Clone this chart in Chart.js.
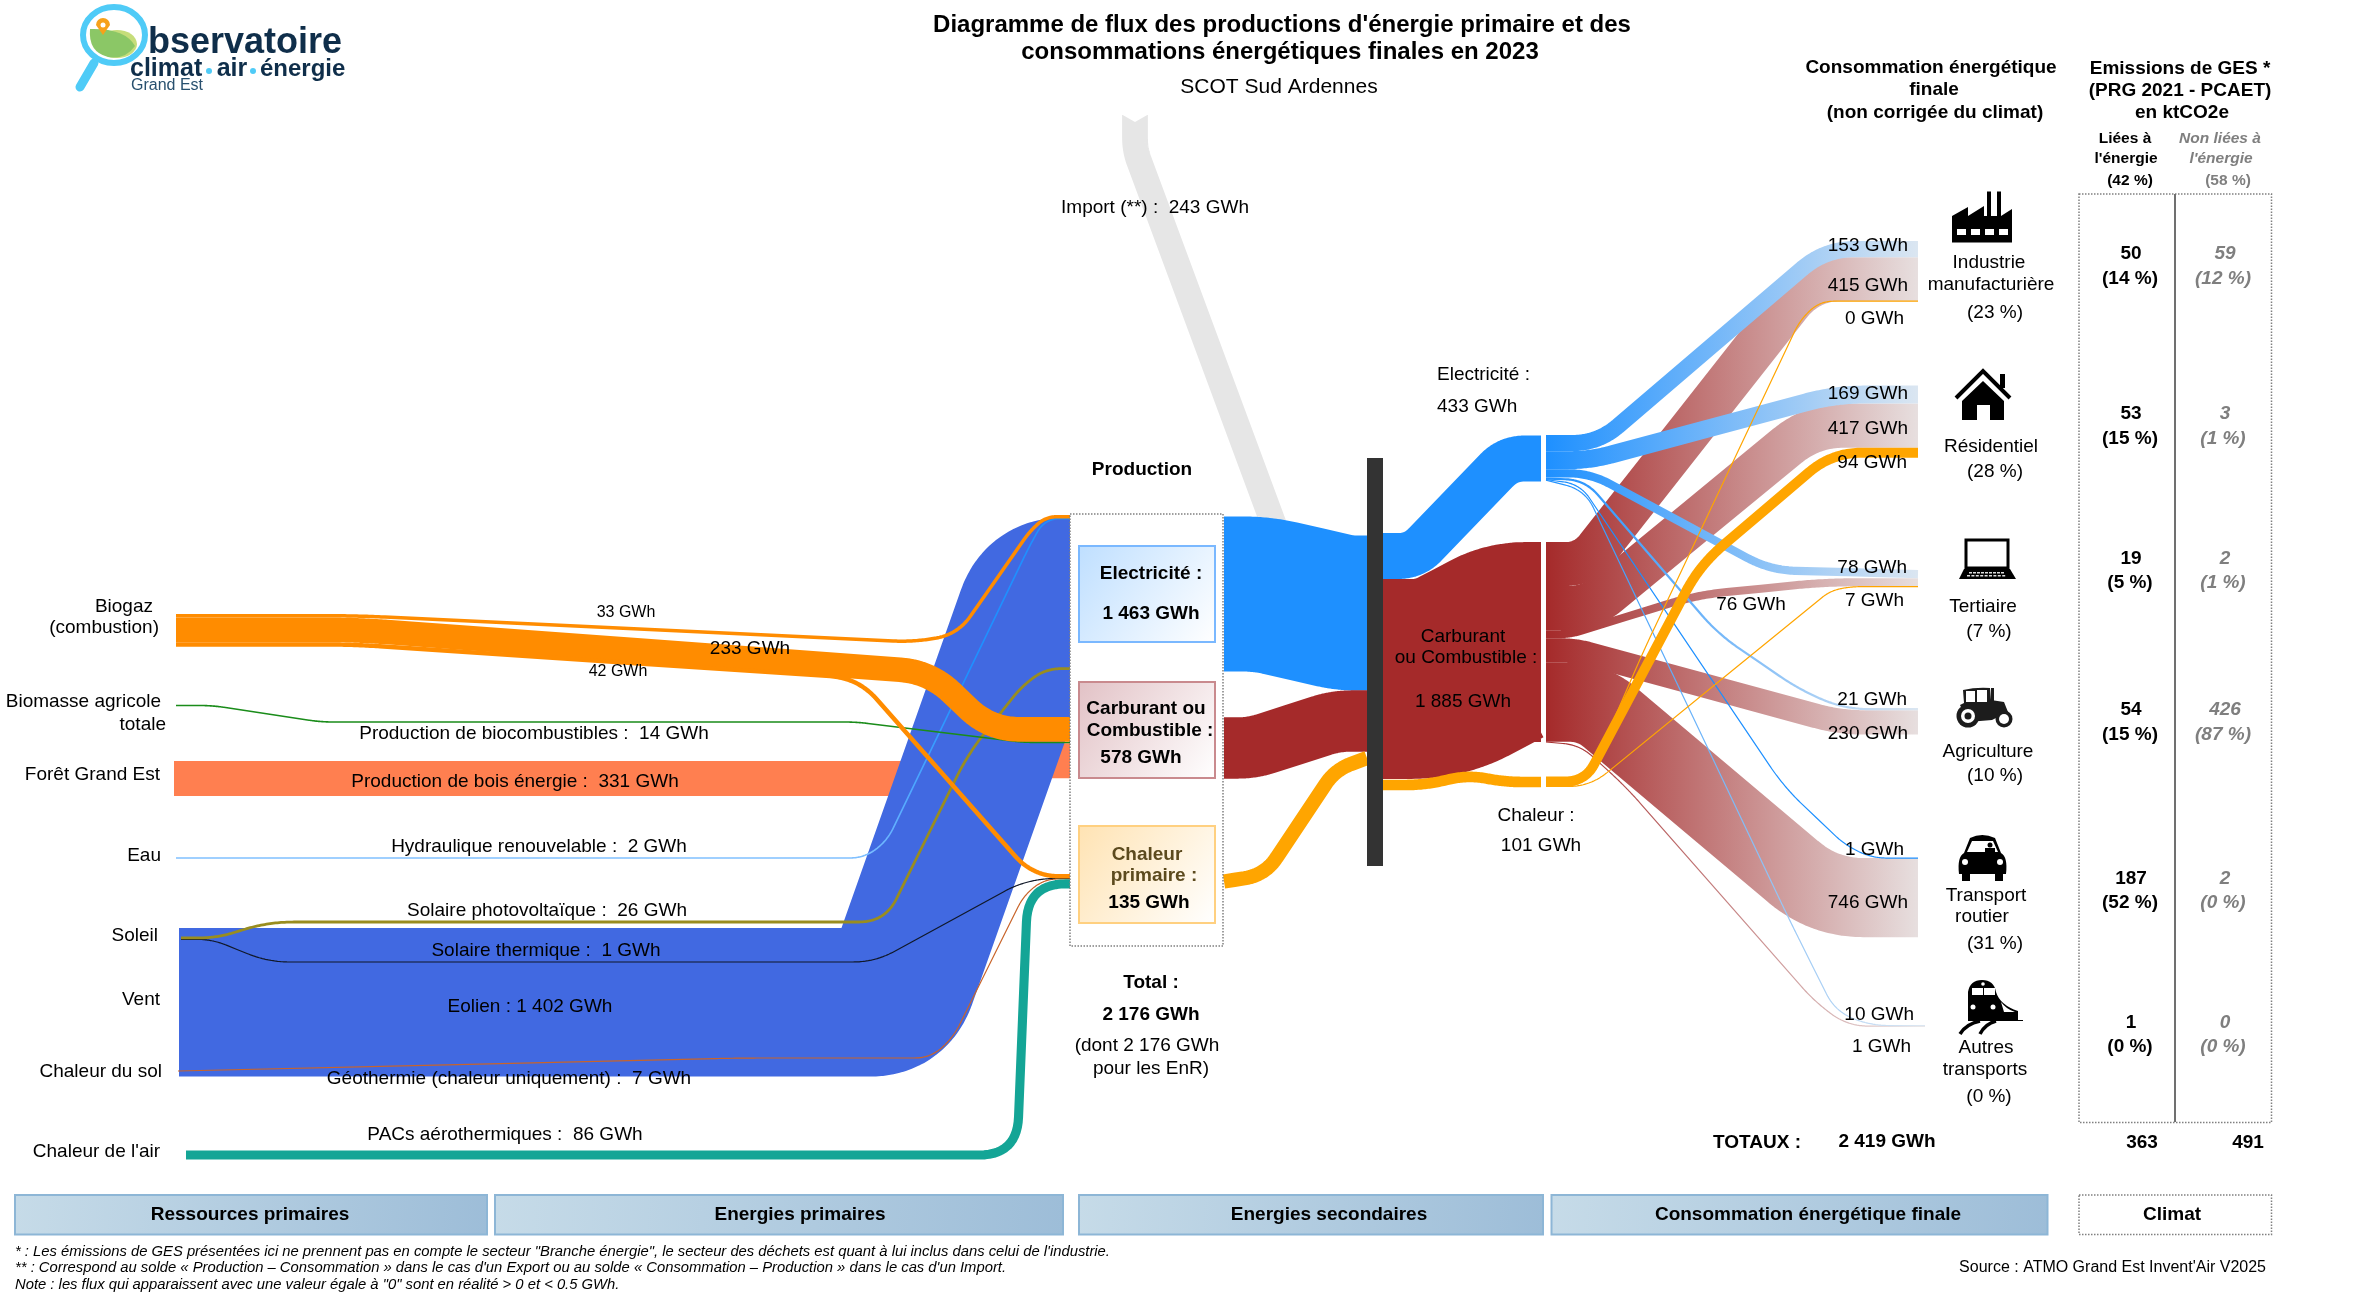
<!DOCTYPE html>
<html lang="fr">
<head>
<meta charset="utf-8">
<title>Diagramme de flux - SCOT Sud Ardennes</title>
<script src="https://cdn.jsdelivr.net/npm/chart.js@4/dist/chart.umd.min.js"></script>
<style>
  html, body { margin: 0; padding: 0; background: #fff; }
  #wrap { width: 2370px; height: 1299px; }
</style>
</head>
<body>
<div id="wrap"><canvas id="sankey" width="2370" height="1299"></canvas></div>
<script>
// values, in GWh unless noted
const biogazValues = [33, 233, 42];             // vers electricite, carburant, chaleur
const primaryNames = ['Production de biocombustibles', 'Production de bois énergie', 'Hydraulique renouvelable',
  'Solaire photovoltaïque', 'Solaire thermique', 'Eolien', 'Géothermie (chaleur uniquement)', 'PACs aérothermiques'];
const primaryValues = [14, 331, 2, 26, 1, 1402, 7, 86];
const importValue = 243;
const productionValues = [1463, 578, 135];      // electricite, carburant, chaleur primaire
const productionTotal = 2176;
const carrierValues = [433, 1885, 101];         // electricite, carburant, chaleur
const sectorShare = [23, 28, 7, 10, 31, 0];     // %
const elecBySector = [153, 169, 78, 21, 1, 10];
const fuelBySector = [415, 417, 76, 230, 746, 1];
const heatBySector = [0, 94, 7, 0, 0, 0];
const consumptionTotal = 2419;
const ghgEnergy = [50, 53, 19, 54, 187, 1];     // ktCO2e
const ghgEnergyPct = [14, 15, 5, 15, 52, 0];
const ghgOther = [59, 3, 2, 426, 2, 0];
const ghgOtherPct = [12, 1, 1, 87, 0, 0];
const ghgTotals = [363, 491];
const ghgTotalPct = [42, 58];

const PX_PER_GWH = 0.106;
const FONT = '"Liberation Sans", Arial, sans-serif';

function gwh(v) { return String(v).replace(/\B(?=(\d{3})+$)/g, ' ') + ' GWh'; }

// centre line of each flow stacked from the top of a node
function stack(top, values) {
  let y = top;
  return values.map(v => {
    const w = v * PX_PER_GWH;
    const c = y + w / 2;
    y += w;
    return c;
  });
}

// rounds the corners of a route so that thick strokes bend like the original
function smooth(pts, r) {
  const out = [{ x: pts[0][0], y: pts[0][1] }];
  for (let i = 1; i < pts.length - 1; i++) {
    const [ax, ay] = pts[i - 1], [bx, by] = pts[i], [cx, cy] = pts[i + 1];
    const d1 = Math.hypot(ax - bx, ay - by), d2 = Math.hypot(cx - bx, cy - by);
    const rr = Math.min(r, d1 / 2, d2 / 2);
    const sx = bx + (ax - bx) / d1 * rr, sy = by + (ay - by) / d1 * rr;
    const ex = bx + (cx - bx) / d2 * rr, ey = by + (cy - by) / d2 * rr;
    for (let k = 0; k <= 14; k++) {
      const t = k / 14, u = 1 - t;
      out.push({ x: u * u * sx + 2 * u * t * bx + t * t * ex, y: u * u * sy + 2 * u * t * by + t * t * ey });
    }
  }
  const last = pts[pts.length - 1];
  out.push({ x: last[0], y: last[1] });
  return out;
}

// node stacks
const [bioFuelIdx, boisIdx, hydroIdx, pvIdx, thermIdx, eolIdx, geoIdx, pacIdx] = [0, 1, 2, 3, 4, 5, 6, 7];
const srcBiogaz = stack(614, biogazValues);
const nodeElec = stack(515, [biogazValues[0], primaryValues[hydroIdx], primaryValues[eolIdx], primaryValues[pvIdx]]);
const nodeFuel = stack(717, [biogazValues[1], primaryValues[bioFuelIdx], primaryValues[boisIdx]]);
const nodeHeat = stack(874, [biogazValues[2], primaryValues[thermIdx], primaryValues[geoIdx], primaryValues[pacIdx]]);
const srcSoleil = stack(936.5, [primaryValues[pvIdx], primaryValues[thermIdx]]);
const eolY = 928 + primaryValues[eolIdx] * PX_PER_GWH / 2;
const boisY = 761 + primaryValues[boisIdx] * PX_PER_GWH / 2;
const pacY = 1150.5 + primaryValues[pacIdx] * PX_PER_GWH / 2;

const outElec = stack(435, elecBySector);
const outFuel = stack(542, fuelBySector);
const outHeat = stack(776.5, [heatBySector[1], heatBySector[2], heatBySector[0]]);
const sectorTops = [241, 385.6, 570, 708, 858, 1025];
const sectorIn = sectorTops.map((t, i) => stack(t, [elecBySector[i], fuelBySector[i], heatBySector[i]]));

const BLUE = '#1e90ff', BRICK = '#a52a2a', AMBER = '#ffa500', GBIO = '#ff8c00';
const FADE_BLUE = '#dbe6f1', FADE_BRICK = '#e7dfdf';

// drawn bottom to top
const flows = [
  { v: importValue, color: '#e6e6e6', r: 12, path: [[1135, 115], [1135, 150], [1298, 590]] },
  { v: primaryValues[boisIdx], color: '#ff7f50', r: 60, path: [[174, boisY], [930, boisY], [1005, nodeFuel[2]], [1110, nodeFuel[2]]] },
  { v: primaryValues[eolIdx], color: '#4169e1', r: 24, path: [[179, eolY], [894, eolY], [1039, 592], [1110, 592]] },
  { v: primaryValues[hydroIdx], min: 1.6, color: '#80c0ff', to: BLUE, range: [864, 960], r: 30, path: [[176, 858], [864, 858], [887, 841], [1030, 545], [1045, nodeElec[1]], [1110, nodeElec[1]]] },
  { v: primaryValues[geoIdx], min: 1.2, color: '#c8642a', r: 25, path: [[178, 1071], [740, 1058], [930, 1058], [953, 1038], [1024, 895], [1045, nodeHeat[2]], [1110, nodeHeat[2]]] },
  { v: primaryValues[pacIdx], color: '#14a596', r: 38, path: [[186, pacY], [1017, pacY], [1028, nodeHeat[3]], [1110, nodeHeat[3]]] },
  { v: primaryValues[thermIdx], min: 1.2, color: '#101828', r: 22, path: [[181, srcSoleil[1]], [212, srcSoleil[1]], [268, 962], [875, 962], [1016, 885], [1042, nodeHeat[1]], [1110, nodeHeat[1]]] },
  { v: primaryValues[pvIdx], color: '#998d1f', r: 26, path: [[181, srcSoleil[0]], [217, srcSoleil[0]], [268, 922], [885, 922], [968, 754], [1022, 686], [1046, nodeElec[3]], [1110, nodeElec[3]]] },
  { v: primaryValues[bioFuelIdx], min: 1.6, color: '#1a8c1a', r: 12, path: [[176, 705.5], [212, 705.5], [321, 722], [856, 722], [1024, nodeFuel[1]], [1110, nodeFuel[1]]] },
  { v: biogazValues[1], color: GBIO, r: 30, path: [[176, srcBiogaz[1]], [357, srcBiogaz[1]], [930, 672], [990, nodeFuel[0]], [1110, nodeFuel[0]]] },
  { v: biogazValues[2], color: GBIO, r: 28, path: [[176, srcBiogaz[2]], [352, srcBiogaz[2]], [858, 678], [1024, 866], [1046, nodeHeat[0]], [1110, nodeHeat[0]]] },
  { v: biogazValues[0], color: GBIO, r: 28, path: [[176, srcBiogaz[0]], [357, srcBiogaz[0]], [915, 642], [958, 634], [1030, 531], [1046, nodeElec[0]], [1110, nodeElec[0]]] },

  { v: productionValues[0], color: BLUE, r: 30, path: [[1224, 594], [1262, 594], [1345, 613], [1367, 613]] },
  { v: productionValues[1], color: BRICK, r: 26, path: [[1224, 748], [1252, 748], [1336, 721], [1367, 721]] },
  { v: productionValues[2], color: AMBER, r: 35, path: [[1224, 881.5], [1265, 875], [1335, 770], [1367, 758]] },

  { v: carrierValues[1], color: BRICK, r: 40, path: [[1383, 679], [1440, 679], [1510, 642], [1541, 642]] },
  { v: carrierValues[0], color: BLUE, r: 45, path: [[1383, 556], [1414, 556], [1508, 458.5], [1541, 458.5]] },
  { v: carrierValues[2], color: AMBER, r: 20, path: [[1383, 785], [1425, 785], [1468, 775], [1505, 782], [1541, 782]] },

  // vers les secteurs
  { v: fuelBySector[4], color: BRICK, to: FADE_BRICK, r: 40, path: [[1546, outFuel[4]], [1592, outFuel[4]], [1824, sectorIn[4][1]], [1918, sectorIn[4][1]]] },
  { v: fuelBySector[3], color: BRICK, to: FADE_BRICK, r: 25, path: [[1546, outFuel[3]], [1575, outFuel[3]], [1840, sectorIn[3][1]], [1918, sectorIn[3][1]]] },
  { v: fuelBySector[1], color: BRICK, to: FADE_BRICK, r: 32, path: [[1546, outFuel[1]], [1590, outFuel[1]], [1812, sectorIn[1][1]], [1918, sectorIn[1][1]]] },
  { v: fuelBySector[0], color: BRICK, to: FADE_BRICK, r: 32, path: [[1546, outFuel[0]], [1585, outFuel[0]], [1809, sectorIn[0][1]], [1918, sectorIn[0][1]]] },
  { v: fuelBySector[2], color: BRICK, to: FADE_BRICK, r: 30, path: [[1546, outFuel[2]], [1570, outFuel[2]], [1697, 595], [1825, sectorIn[2][1]], [1918, sectorIn[2][1]]] },
  { v: fuelBySector[5], min: 1.2, color: BRICK, to: FADE_BRICK, r: 22, path: [[1546, 742], [1580, 745], [1626, 787], [1815, 1002], [1848, sectorIn[5][1]], [1925, sectorIn[5][1]]] },
  { v: elecBySector[0], color: BLUE, to: FADE_BLUE, r: 30, path: [[1546, outElec[0]], [1598, outElec[0]], [1825, sectorIn[0][0]], [1918, sectorIn[0][0]]] },
  { v: elecBySector[1], color: BLUE, to: FADE_BLUE, r: 30, path: [[1546, outElec[1]], [1590, outElec[1]], [1835, sectorIn[1][0]], [1918, sectorIn[1][0]]] },
  { v: elecBySector[2], color: BLUE, to: FADE_BLUE, r: 26, path: [[1546, outElec[2]], [1590, outElec[2]], [1770, sectorIn[2][0] - 4], [1918, sectorIn[2][0]]] },
  { v: elecBySector[3], color: BLUE, to: FADE_BLUE, r: 26, path: [[1546, outElec[3]], [1585, 480], [1718, 634], [1800, 690], [1845, sectorIn[3][0]], [1918, sectorIn[3][0]]] },
  { v: elecBySector[4], min: 1.2, color: BLUE, r: 26, path: [[1546, outElec[4]], [1580, 484], [1784, 787], [1845, 845], [1872, sectorIn[4][0]], [1918, sectorIn[4][0]]] },
  { v: elecBySector[5], min: 1.2, color: BLUE, to: FADE_BLUE, r: 26, path: [[1546, outElec[5]], [1585, 490], [1789, 919], [1835, 1011], [1870, sectorIn[5][0]], [1925, sectorIn[5][0]]] },
  { v: heatBySector[1], color: AMBER, r: 30, path: [[1546, outHeat[0]], [1585, outHeat[0]], [1700, 565], [1832, sectorIn[1][2]], [1918, sectorIn[1][2]]] },
  { v: heatBySector[0], min: 1.2, color: AMBER, r: 25, path: [[1546, 786], [1585, 786], [1644, 650], [1800, 320], [1820, sectorIn[0][2]], [1918, sectorIn[0][2]]] },
  { v: heatBySector[2], min: 1.2, color: AMBER, r: 25, path: [[1546, 786.5], [1590, 786.5], [1830, 591], [1850, sectorIn[2][2]], [1918, sectorIn[2][2]]] },
];

function txt(ctx, s, x, y, o = {}) {
  ctx.font = `${o.italic ? 'italic ' : ''}${o.bold ? 'bold ' : ''}${o.size || 19}px ${FONT}`;
  ctx.fillStyle = o.color || '#000';
  ctx.textAlign = o.align || 'center';
  ctx.textBaseline = 'middle';
  ctx.fillText(s, x, y + 1);
}

function gradBox(ctx, x, y, w, h, c0, c1, border) {
  const g = ctx.createLinearGradient(x, y, x + w, y + h);
  g.addColorStop(0, c0);
  g.addColorStop(1, c1);
  ctx.fillStyle = g;
  ctx.fillRect(x, y, w, h);
  ctx.strokeStyle = border;
  ctx.lineWidth = 2;
  ctx.strokeRect(x, y, w, h);
}

function dottedRect(ctx, x, y, w, h) {
  ctx.save();
  ctx.setLineDash([1.5, 1.5]);
  ctx.strokeStyle = '#808080';
  ctx.lineWidth = 1.5;
  ctx.strokeRect(x, y, w, h);
  ctx.restore();
}

function drawLogo(ctx) {
  ctx.save();
  ctx.strokeStyle = '#4fcbf7';
  ctx.lineCap = 'round';
  ctx.lineWidth = 9;
  ctx.beginPath(); ctx.moveTo(94, 63); ctx.lineTo(80, 87); ctx.stroke();
  ctx.fillStyle = '#fff';
  ctx.lineWidth = 6;
  ctx.beginPath(); ctx.ellipse(114, 35, 31, 28, 0, 0, 7); ctx.fill(); ctx.stroke();
  ctx.fillStyle = '#c6dd7a';
  ctx.beginPath(); ctx.ellipse(117, 44, 20, 14, 0, 0, 7); ctx.fill();
  ctx.fillStyle = '#8bc766';
  ctx.beginPath(); ctx.moveTo(90, 29); ctx.quadraticCurveTo(125, 28, 135, 46);
  ctx.quadraticCurveTo(125, 60, 108, 57); ctx.quadraticCurveTo(88, 52, 90, 29); ctx.fill();
  ctx.fillStyle = '#f7a11a';
  ctx.beginPath(); ctx.arc(103, 25, 7, Math.PI, 0); ctx.lineTo(103, 35); ctx.closePath(); ctx.fill();
  ctx.fillStyle = '#fff';
  ctx.beginPath(); ctx.arc(103, 25, 2.5, 0, 7); ctx.fill();
  ctx.fillStyle = '#4fcbf7';
  ctx.beginPath(); ctx.arc(209, 71, 3, 0, 7); ctx.fill();
  ctx.beginPath(); ctx.arc(253, 71, 3, 0, 7); ctx.fill();
  ctx.restore();
  const navy = '#0f2e4a';
  txt(ctx, 'bservatoire', 148, 42, { bold: true, size: 36, color: navy, align: 'left' });
  txt(ctx, 'climat', 130, 68, { bold: true, size: 25, color: navy, align: 'left' });
  txt(ctx, 'air', 232, 68, { bold: true, size: 25, color: navy });
  txt(ctx, 'énergie', 260, 68, { bold: true, size: 24, color: navy, align: 'left' });
  txt(ctx, 'Grand Est', 131, 85, { size: 16, color: '#28506e', align: 'left' });
}

function drawIcons(ctx) {
  ctx.save();
  ctx.fillStyle = '#000';
  ctx.strokeStyle = '#000';

  // usine
  ctx.beginPath();
  ctx.moveTo(1952, 242.5); ctx.lineTo(1952, 216); ctx.lineTo(1968, 207); ctx.lineTo(1968, 216);
  ctx.lineTo(1984, 206); ctx.lineTo(1984, 216); ctx.lineTo(1987, 216); ctx.lineTo(1987, 191.5);
  ctx.lineTo(1991, 191.5); ctx.lineTo(1991, 216); ctx.lineTo(1997, 216); ctx.lineTo(1997, 191.5);
  ctx.lineTo(2001, 191.5); ctx.lineTo(2001, 216); ctx.lineTo(2012, 209); ctx.lineTo(2012, 242.5);
  ctx.closePath(); ctx.fill();
  ctx.fillStyle = '#fff';
  [1957, 1971, 1985, 1999].forEach(x => ctx.fillRect(x, 229, 9, 6));
  ctx.fillStyle = '#000';

  // maison
  ctx.lineWidth = 4;
  ctx.beginPath(); ctx.moveTo(1956, 398); ctx.lineTo(1983, 371); ctx.lineTo(2010, 398); ctx.stroke();
  ctx.fillRect(2000, 374, 5, 14);
  ctx.beginPath();
  ctx.moveTo(1983, 381); ctx.lineTo(2004, 401); ctx.lineTo(2004, 420); ctx.lineTo(1990, 420); ctx.lineTo(1990, 405);
  ctx.lineTo(1977, 405); ctx.lineTo(1977, 420); ctx.lineTo(1962, 420); ctx.lineTo(1962, 401); ctx.closePath(); ctx.fill();

  // ordinateur portable
  ctx.lineWidth = 3;
  ctx.strokeRect(1966, 540, 42, 28);
  ctx.beginPath(); ctx.moveTo(1964, 569); ctx.lineTo(2010, 569); ctx.lineTo(2016, 579); ctx.lineTo(1959, 579); ctx.closePath(); ctx.fill();
  ctx.fillStyle = '#ddd';
  for (let i = 0; i < 9; i++) ctx.fillRect(1969 + i * 4, 572, 3, 1.5), ctx.fillRect(1967 + i * 4.4, 575, 3, 1.5);
  ctx.fillStyle = '#000';

  // tracteur
  ctx.fillStyle = '#1c1c1c';
  ctx.beginPath();
  ctx.moveTo(1963, 690); ctx.quadraticCurveTo(1976, 687, 1990, 688); ctx.lineTo(1991, 700); ctx.lineTo(2004, 702);
  ctx.lineTo(2008, 712); ctx.lineTo(2000, 716); ctx.lineTo(1992, 720); ctx.lineTo(1968, 722); ctx.lineTo(1960, 705); ctx.lineTo(1964, 703); ctx.closePath(); ctx.fill();
  ctx.fillRect(1991, 688, 3, 13);
  ctx.fillStyle = '#fff';
  ctx.fillRect(1966, 691, 9, 11);
  ctx.fillRect(1977, 690, 10, 12);
  [[1968, 716, 11.5, 7, 3.5], [2004, 719, 8.5, 5, 0]].forEach(([x, y, r, w, hub]) => {
    ctx.fillStyle = '#1c1c1c';
    ctx.beginPath(); ctx.arc(x, y, r, 0, 7); ctx.fill();
    ctx.fillStyle = '#fff';
    ctx.beginPath(); ctx.arc(x, y, w, 0, 7); ctx.fill();
    if (hub) {
      ctx.fillStyle = '#1c1c1c';
      ctx.beginPath(); ctx.arc(x, y, hub, 0, 7); ctx.fill();
    }
  });
  ctx.fillStyle = '#000';

  // voiture
  ctx.beginPath();
  ctx.moveTo(1970, 838); ctx.quadraticCurveTo(1982, 832, 1995, 838); ctx.lineTo(2001, 853);
  ctx.quadraticCurveTo(2008, 857, 2006, 874); ctx.lineTo(1959, 874); ctx.quadraticCurveTo(1957, 857, 1964, 853); ctx.closePath(); ctx.fill();
  ctx.fillRect(1962, 872, 8, 9); ctx.fillRect(1995, 872, 8, 9);
  ctx.fillStyle = '#fff';
  ctx.beginPath(); ctx.moveTo(1972, 841); ctx.lineTo(1993, 841); ctx.lineTo(1998, 852); ctx.lineTo(1967, 852); ctx.closePath(); ctx.fill();
  ctx.beginPath(); ctx.arc(1965, 862, 3, 0, 7); ctx.fill();
  ctx.beginPath(); ctx.arc(2000, 862, 3, 0, 7); ctx.fill();
  ctx.fillStyle = '#000';
  ctx.beginPath(); ctx.arc(1990, 845, 2.5, 0, 7); ctx.fill();
  ctx.fillRect(1985, 848, 10, 4);

  // train
  ctx.beginPath();
  ctx.moveTo(1968, 1020); ctx.lineTo(1968, 992); ctx.quadraticCurveTo(1970, 980, 1982, 980);
  ctx.quadraticCurveTo(1994, 980, 1996, 992); ctx.quadraticCurveTo(2000, 1005, 2018, 1011);
  ctx.lineTo(2018, 1020); ctx.lineTo(2023, 1020); ctx.lineTo(2023, 1021); ctx.lineTo(1968, 1021); ctx.closePath(); ctx.fill();
  ctx.fillStyle = '#fff';
  ctx.fillRect(1972, 988, 11, 7); ctx.fillRect(1984, 988, 11, 7);
  ctx.beginPath(); ctx.arc(1983, 984, 1.8, 0, 7); ctx.fill();
  ctx.beginPath(); ctx.arc(1973, 1007, 2.5, 0, 7); ctx.fill();
  ctx.beginPath(); ctx.arc(1993, 1007, 2.5, 0, 7); ctx.fill();
  ctx.beginPath(); ctx.moveTo(2001, 1002); ctx.quadraticCurveTo(2006, 1009, 2015, 1012); ctx.lineTo(2004, 1012); ctx.closePath(); ctx.fill();
  ctx.strokeStyle = '#000';
  ctx.lineWidth = 3.5;
  ctx.beginPath(); ctx.moveTo(1960, 1034); ctx.quadraticCurveTo(1966, 1024, 1980, 1021); ctx.stroke();
  ctx.beginPath(); ctx.moveTo(1980, 1034); ctx.quadraticCurveTo(1985, 1024, 1996, 1021); ctx.stroke();
  ctx.restore();
}

// boxes, separators, icons and every text sit above the flows
const sankeyDecor = {
  id: 'sankeyDecor',
  afterDatasetsDraw(chart) {
    const ctx = chart.ctx;
    ctx.save();

    // encoche en tete de l'import
    ctx.fillStyle = '#fff';
    ctx.beginPath(); ctx.moveTo(1121, 114); ctx.lineTo(1149, 114); ctx.lineTo(1135, 122); ctx.closePath(); ctx.fill();

    // panneau production
    ctx.fillStyle = '#fff';
    ctx.fillRect(1070, 514, 153, 432);
    dottedRect(ctx, 1070, 514, 153, 432);
    gradBox(ctx, 1079, 546, 136, 96, '#bfdfff', '#ffffff', '#7ab8ff');
    gradBox(ctx, 1079, 682, 136, 96, '#e2c2c6', '#ffffff', '#c98a8e');
    gradBox(ctx, 1079, 826, 136, 97, '#ffe3b3', '#ffffff', '#ffd080');

    // barre noire
    ctx.fillStyle = '#333';
    ctx.fillRect(1367, 458, 16, 408);

    // cadre des emissions
    dottedRect(ctx, 2079, 194, 192.5, 928.5);
    ctx.strokeStyle = '#707070';
    ctx.lineWidth = 2;
    ctx.beginPath(); ctx.moveTo(2175, 194); ctx.lineTo(2175, 1122); ctx.stroke();

    // bandeaux du bas
    [[15, 472], [495, 568], [1079, 464], [1551.5, 496]].forEach(([x, w]) =>
      gradBox(ctx, x, 1195, w, 39.5, '#c6dbe8', '#9dbdd8', '#8db6d6'));
    dottedRect(ctx, 2079, 1195, 192.5, 39.5);

    drawLogo(ctx);
    drawIcons(ctx);

    // titres
    txt(ctx, "Diagramme de flux des productions d'énergie primaire et des", 1282, 24, { bold: true, size: 24 });
    txt(ctx, 'consommations énergétiques finales en 2023', 1280, 51, { bold: true, size: 24 });
    txt(ctx, 'SCOT Sud Ardennes', 1279, 86, { size: 21 });

    // ressources
    const left = { align: 'right' };
    txt(ctx, 'Biogaz', 153, 606, left);
    txt(ctx, '(combustion)', 159, 627, left);
    txt(ctx, 'Biomasse agricole', 161, 701, left);
    txt(ctx, 'totale', 166, 724, left);
    txt(ctx, 'Forêt Grand Est', 160, 774, left);
    txt(ctx, 'Eau', 161, 855, left);
    txt(ctx, 'Soleil', 158, 935, left);
    txt(ctx, 'Vent', 160, 999, left);
    txt(ctx, 'Chaleur du sol', 162, 1071, left);
    txt(ctx, "Chaleur de l'air", 160, 1151, left);

    // flux primaires
    txt(ctx, gwh(biogazValues[0]), 626, 612, { size: 16 });
    txt(ctx, gwh(biogazValues[1]), 750, 648);
    txt(ctx, gwh(biogazValues[2]), 618, 671, { size: 16 });
    const primaryPos = [[534, 733], [515, 781], [539, 846], [547, 910], [546, 950], [530, 1006], [509, 1078], [505, 1134]];
    primaryNames.forEach((n, i) => {
      const sep = n === 'Eolien' ? ' : ' : ' :  ';
      txt(ctx, n + sep + gwh(primaryValues[i]), primaryPos[i][0], primaryPos[i][1]);
    });
    txt(ctx, 'Import (**) :  ' + gwh(importValue), 1155, 207);

    // production
    txt(ctx, 'Production', 1142, 469, { bold: true });
    const b = { bold: true };
    txt(ctx, 'Electricité :', 1151, 573, b);
    txt(ctx, gwh(productionValues[0]), 1151, 613, b);
    txt(ctx, 'Carburant ou', 1146, 708, b);
    txt(ctx, 'Combustible :', 1150, 730, b);
    txt(ctx, gwh(productionValues[1]), 1141, 757, b);
    txt(ctx, 'Chaleur', 1147, 854, { bold: true, color: '#5c4a1e' });
    txt(ctx, 'primaire :', 1154, 875, { bold: true, color: '#5c4a1e' });
    txt(ctx, gwh(productionValues[2]), 1149, 902, b);
    txt(ctx, 'Total :', 1151, 982, b);
    txt(ctx, gwh(productionTotal), 1151, 1014, b);
    txt(ctx, '(dont ' + gwh(productionTotal), 1147, 1045);
    txt(ctx, 'pour les EnR)', 1151, 1068);

    // vecteurs
    const lft = { align: 'left' };
    txt(ctx, 'Electricité :', 1437, 374, lft);
    txt(ctx, gwh(carrierValues[0]), 1437, 406, lft);
    txt(ctx, 'Carburant', 1463, 636);
    txt(ctx, 'ou Combustible :', 1466, 657);
    txt(ctx, gwh(carrierValues[1]), 1463, 701);
    txt(ctx, 'Chaleur :', 1536, 815);
    txt(ctx, gwh(carrierValues[2]), 1541, 845);

    // en-tetes de droite
    txt(ctx, 'Consommation énergétique', 1931, 67, b);
    txt(ctx, 'finale', 1934, 89, b);
    txt(ctx, '(non corrigée du climat)', 1935, 112, b);
    txt(ctx, 'Emissions de GES *', 2180, 68, b);
    txt(ctx, '(PRG 2021 - PCAET)', 2180, 90, b);
    txt(ctx, 'en ktCO2e', 2182, 112, b);
    txt(ctx, 'Liées à', 2125, 138, { bold: true, size: 15.5 });
    txt(ctx, "l'énergie", 2126, 158, { bold: true, size: 15.5 });
    txt(ctx, `(${ghgTotalPct[0]} %)`, 2130, 180, { bold: true, size: 15.5 });
    const grey = { bold: true, italic: true, size: 15.5, color: '#7f7f7f' };
    txt(ctx, 'Non liées à', 2220, 138, grey);
    txt(ctx, "l'énergie", 2221, 158, grey);
    txt(ctx, `(${ghgTotalPct[1]} %)`, 2228, 180, { bold: true, size: 15.5, color: '#7f7f7f' });

    // valeurs de flux par secteur
    const flowLabels = [
      [elecBySector[0], 1908, 245], [fuelBySector[0], 1908, 285], [heatBySector[0], 1904, 318],
      [elecBySector[1], 1908, 393], [fuelBySector[1], 1908, 428], [heatBySector[1], 1907, 462],
      [elecBySector[2], 1907, 567], [heatBySector[2], 1904, 600],
      [elecBySector[3], 1907, 699], [fuelBySector[3], 1908, 733],
      [elecBySector[4], 1904, 849], [fuelBySector[4], 1908, 902],
      [elecBySector[5], 1914, 1014], [fuelBySector[5], 1911, 1046],
    ];
    flowLabels.forEach(([v, x, y]) => txt(ctx, gwh(v), x, y, { align: 'right' }));
    txt(ctx, gwh(fuelBySector[2]), 1751, 604);

    // secteurs
    const sectorLabels = [
      [['Industrie', 1989, 262], ['manufacturière', 1991, 284]], [['Résidentiel', 1991, 446]],
      [['Tertiaire', 1983, 606]], [['Agriculture', 1988, 751]],
      [['Transport', 1986, 895], ['routier', 1982, 916]], [['Autres', 1986, 1047], ['transports', 1985, 1069]],
    ];
    const sharePos = [[1995, 312], [1995, 471], [1989, 631], [1995, 775], [1995, 943], [1989, 1096]];
    sectorLabels.forEach((lines, i) => {
      lines.forEach(([s, x, y]) => txt(ctx, s, x, y));
      txt(ctx, `(${sectorShare[i]} %)`, sharePos[i][0], sharePos[i][1]);
    });

    // emissions
    const ghgY = [[253, 278], [413, 438], [558, 582], [709, 734], [878, 902], [1022, 1046]];
    const ghgGrey = { bold: true, italic: true, color: '#7f7f7f' };
    ghgY.forEach(([y0, y1], i) => {
      txt(ctx, String(ghgEnergy[i]), 2131, y0, b);
      txt(ctx, `(${ghgEnergyPct[i]} %)`, 2130, y1, b);
      txt(ctx, String(ghgOther[i]), 2225, y0, ghgGrey);
      txt(ctx, `(${ghgOtherPct[i]} %)`, 2223, y1, ghgGrey);
    });

    // totaux
    txt(ctx, 'TOTAUX :', 1757, 1142, b);
    txt(ctx, gwh(consumptionTotal), 1887, 1141, b);
    txt(ctx, String(ghgTotals[0]), 2142, 1142, b);
    txt(ctx, String(ghgTotals[1]), 2248, 1142, b);

    // bandeaux
    txt(ctx, 'Ressources primaires', 250, 1214, b);
    txt(ctx, 'Energies primaires', 800, 1214, b);
    txt(ctx, 'Energies secondaires', 1329, 1214, b);
    txt(ctx, 'Consommation énergétique finale', 1808, 1214, b);
    txt(ctx, 'Climat', 2172, 1214, b);

    // notes
    const note = { italic: true, size: 14.8, align: 'left' };
    txt(ctx, '* : Les émissions de GES présentées ici ne prennent pas en compte le secteur "Branche énergie", le secteur des déchets est quant à lui inclus dans celui de l\'industrie.', 15, 1251, note);
    txt(ctx, '** : Correspond au solde « Production – Consommation » dans le cas d\'un Export ou au solde « Consommation – Production » dans le cas d\'un Import.', 15, 1267, note);
    txt(ctx, 'Note : les flux qui apparaissent avec une valeur égale à "0" sont en réalité > 0 et < 0.5 GWh.', 15, 1284, note);
    txt(ctx, "Source : ATMO Grand Est Invent'Air V2025", 2266, 1267, { size: 16, align: 'right' });

    ctx.restore();
  }
};

// the x axis spans the canvas one unit per pixel, so gradient stops can use axis values directly
const canvas = document.getElementById('sankey');
function flowColor(f) {
  if (!f.to) return f.color;
  const [a, b] = f.range || [1546, 1918];
  const g = canvas.getContext('2d').createLinearGradient(a, 0, b, 0);
  g.addColorStop(0, f.color);
  g.addColorStop(1, f.to);
  return g;
}

new Chart(canvas, {
  type: 'line',
  data: {
    datasets: flows.map((f, i) => ({
      data: smooth(f.path, f.r),
      borderColor: flowColor(f),
      borderWidth: Math.max(f.v * PX_PER_GWH, f.min || 0),
      borderCapStyle: 'butt',
      borderJoinStyle: 'round',
      tension: 0.001,
      pointRadius: 0,
      fill: false,
      order: flows.length - i,
    })),
  },
  options: {
    responsive: false,
    animation: false,
    devicePixelRatio: 1,
    layout: { padding: 0 },
    plugins: { legend: { display: false }, tooltip: { enabled: false }, title: { display: false } },
    events: [],
    scales: {
      x: { type: 'linear', min: 0, max: 2370, display: false },
      y: { type: 'linear', min: 0, max: 1299, reverse: true, display: false },
    },
  },
  plugins: [sankeyDecor],
});
</script>
</body>
</html>
